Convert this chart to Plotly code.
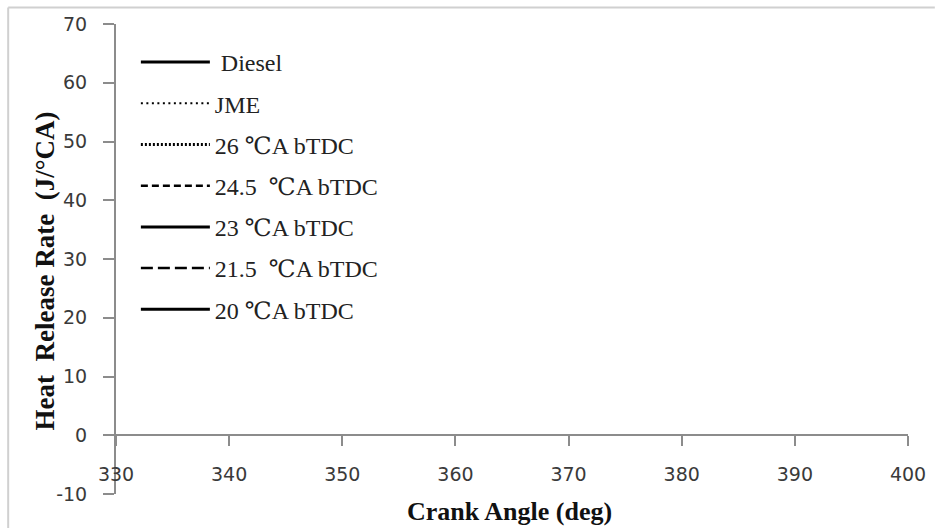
import plotly.graph_objects as go

# Heat release rate vs crank angle for each fuel / injection timing
series_names = [
    " Diesel",
    "JME",
    "26 ℃A bTDC",
    "24.5  ℃A bTDC",
    "23 ℃A bTDC",
    "21.5  ℃A bTDC",
    "20 ℃A bTDC",
]
crank_angle = []          # deg
hrr_diesel = []           # J/°CA
hrr_jme = []
hrr_26 = []
hrr_24_5 = []
hrr_23 = []
hrr_21_5 = []
hrr_20 = []
series_values = [hrr_diesel, hrr_jme, hrr_26, hrr_24_5, hrr_23, hrr_21_5, hrr_20]

x_ticks = [330, 340, 350, 360, 370, 380, 390, 400]
y_ticks = [-10, 0, 10, 20, 30, 40, 50, 60, 70]
y_tick_text = ["-10", "0", "10", "20", "30", "40", "50", "60", "70"]

line_styles = [
    dict(width=3, dash="solid"),
    dict(width=2, dash="2px,3.5px"),
    dict(width=3, dash="2px,2px"),
    dict(width=2.5, dash="7px,4px"),
    dict(width=3, dash="solid"),
    dict(width=2.5, dash="12px,5px"),
    dict(width=3, dash="solid"),
]


def padded(values):
    # a trace needs at least one (possibly blank) sample to keep its legend entry
    return list(values) if len(values) else [None]


fig = go.Figure()
for i, (name, vals, ls) in enumerate(zip(series_names, series_values, line_styles)):
    fig.add_trace(go.Scatter(
        x=padded(crank_angle), y=padded(vals), mode="lines", name=name,
        legendgroup=str(i), showlegend=True,
        line=dict(color="black", **ls),
    ))

axis_color = "#8c8c8c"
tick_font = dict(family="DejaVu Sans", size=19, color="#3a3a3a")

W, H = 938, 528
L, R, T, B = 116, 25, 24, 34
pw, ph = W - L - R, H - T - B


def px(x):
    return (x - L) / pw


def py(y):
    return (H - B - y) / ph


fig.update_layout(
    width=W, height=H,
    margin=dict(l=L, r=R, t=T, b=B),
    plot_bgcolor="white", paper_bgcolor="white",
    showlegend=True,
    legend=dict(
        x=px(136), y=py(40), xanchor="left", yanchor="top",
        font=dict(family="Liberation Serif, DejaVu Serif", size=24, color="#222222"),
        itemwidth=69, traceorder="grouped", tracegroupgap=7,
        bgcolor="rgba(0,0,0,0)",
    ),
    xaxis=dict(
        range=[330, 400], tickvals=x_ticks, showgrid=False, zeroline=False,
        showline=True, linecolor=axis_color, linewidth=2,
        ticks="outside", ticklen=10, tickwidth=2, tickcolor=axis_color,
        anchor="free", position=10 / 80, ticklabelstandoff=12,
        tickfont=tick_font,
    ),
    yaxis=dict(
        range=[-10, 70], tickvals=y_ticks, ticktext=y_tick_text,
        showgrid=False, zeroline=False,
        showline=True, linecolor=axis_color, linewidth=2,
        ticks="outside", ticklen=11, tickwidth=2, tickcolor=axis_color,
        ticklabelstandoff=12, tickfont=tick_font,
    ),
    annotations=[
        dict(text="<b>Crank Angle (deg)</b>", xref="paper", yref="paper",
             x=px(512), y=py(511), xanchor="center", yanchor="middle",
             showarrow=False,
             font=dict(family="Liberation Serif", size=26, color="#111111")),
        dict(text="<b>Heat  Release Rate  (J/°CA)</b>", xref="paper", yref="paper",
             x=px(45), y=py(271), xanchor="center", yanchor="middle",
             textangle=-90, showarrow=False,
             font=dict(family="Liberation Serif", size=27, color="#111111")),
    ],
    shapes=[
        dict(type="line", xref="paper", yref="paper",
             x0=px(7.5), x1=px(W + 2), y0=py(7.5), y1=py(7.5),
             line=dict(color="#d0d0d0", width=2)),
        dict(type="line", xref="paper", yref="paper",
             x0=px(7.5), x1=px(7.5), y0=py(7.5), y1=py(H + 2),
             line=dict(color="#d0d0d0", width=2)),
    ],
)

fig.write_html("out.html")
